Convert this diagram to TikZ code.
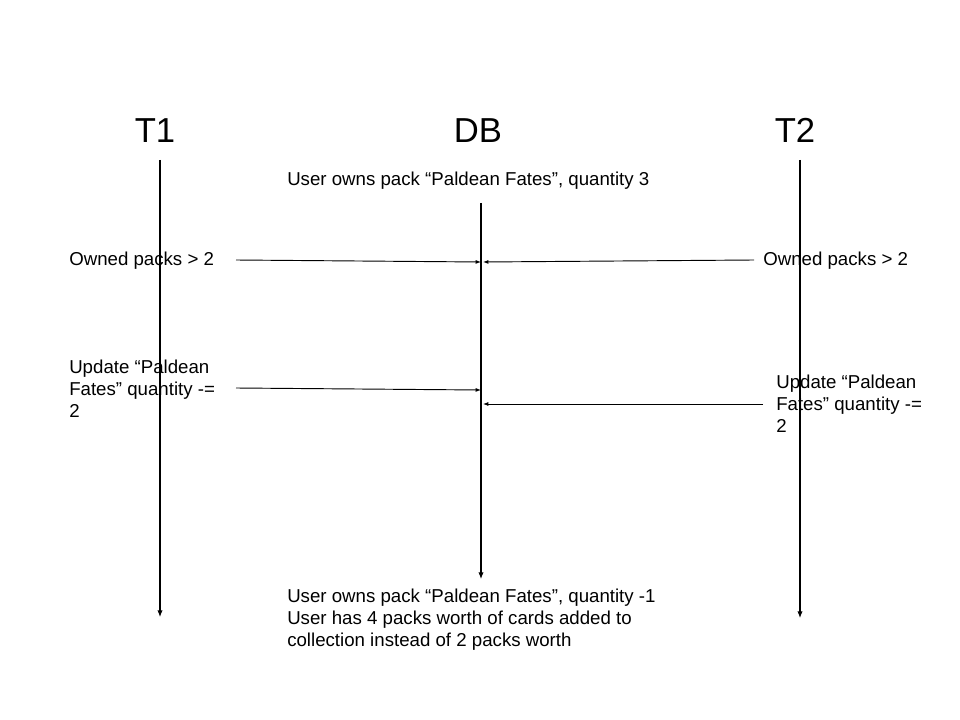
\documentclass[tikz,border=0pt]{standalone}
\usepackage{fontspec}
\setmainfont{Liberation Sans}
\usetikzlibrary{arrows.meta}
\begin{document}
\begin{tikzpicture}[x=0.75pt,y=-0.75pt,
  title/.style={font=\fontsize{26}{30}\selectfont, inner sep=0pt, anchor=base},
  lbl/.style={font=\fontsize{14}{16.5}\selectfont, inner sep=0pt, anchor=west, align=left},
  life/.style={line width=0.8pt, -{Latex[length=5pt,width=4pt]}},
  msg/.style={line width=0.7pt, -{Latex[length=4pt,width=3pt]}}]
\useasboundingbox (0,0) rectangle (960,720);
% titles
\node[title] (t1) at (155,143) {T1};
\node[title] (db) at (478,143) {DB};
\node[title] (t2) at (795,143) {T2};
% lifelines
\coordinate (t1top) at (160,160);
\coordinate (t1bot) at (160,617);
\coordinate (dbtop) at (481,203);
\coordinate (dbbot) at (481,579);
\coordinate (t2top) at (800,160);
\coordinate (t2bot) at (800,618);
\draw[life] (t1top) -- (t1bot);
\draw[life] (dbtop) -- (dbbot);
\draw[life] (t2top) -- (t2bot);
% DB texts
\node[lbl] (dbstart) at (287,181) {User owns pack “Paldean Fates”, quantity 3};
\node[lbl] (dbend) at (287,620) {User owns pack “Paldean Fates”, quantity -1\\User has 4 packs worth of cards added to\\collection instead of 2 packs worth};
% messages row 1
\node[lbl] (l1) at (69,261) {Owned packs > 2};
\node[lbl] (r1) at (763,261) {Owned packs > 2};
\coordinate (l1s) at (236,260);
\coordinate (l1e) at (481,262);
\coordinate (r1s) at (754,260);
\coordinate (r1e) at (483,262);
\draw[msg] (l1s) -- (l1e);
\draw[msg] (r1s) -- (r1e);
% messages row 2
\node[lbl] (l2) at (69,389) {Update “Paldean\\Fates” quantity -=\\2};
\node[lbl] (r2) at (776,404) {Update “Paldean\\Fates” quantity -=\\2};
\coordinate (l2s) at (236,388);
\coordinate (l2e) at (481,390);
\coordinate (r2s) at (763,404);
\coordinate (r2e) at (483,404);
\draw[msg] (l2s) -- (l2e);
\draw[msg] (r2s) -- (r2e);
\end{tikzpicture}
\end{document}
